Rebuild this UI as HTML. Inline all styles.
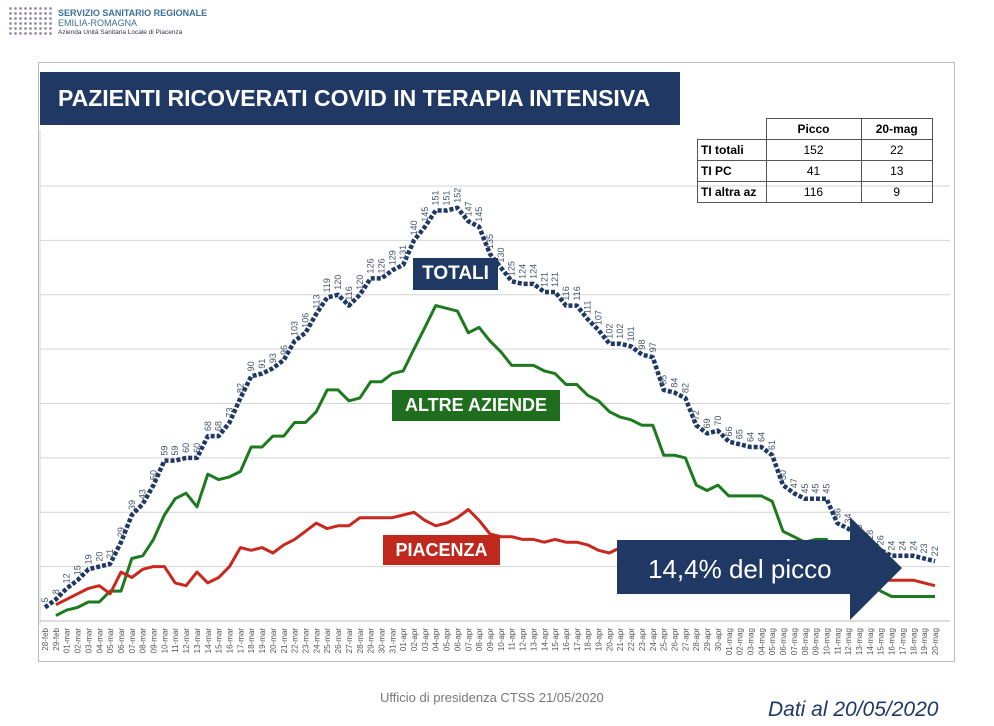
<!DOCTYPE html>
<html><head><meta charset="utf-8"><style>
body{margin:0;width:994px;height:726px;background:#fff;overflow:hidden;font-family:"Liberation Sans",sans-serif;position:relative}
.abs{position:absolute}
table{border-collapse:collapse;font-family:"Liberation Sans",sans-serif;font-size:12px}
td{border:1px solid #555;height:20px;padding:0 3px;text-align:center}
</style></head><body>
<div class="abs" style="left:8px;top:6px;width:46px;height:30px;background:radial-gradient(circle,#9a8fa5 1.2px,transparent 1.6px) 0 0/5px 5px"></div>
<div class="abs" style="left:58px;top:8px;font-size:9px;line-height:10px;color:#3c6f9e">
<div style="font-weight:bold">SERVIZIO SANITARIO REGIONALE</div><div>EMILIA-ROMAGNA</div><div style="font-size:6.5px;color:#335">Azienda Unità Sanitaria Locale di Piacenza</div></div>
<div class="abs" style="left:38px;top:62px;width:917px;height:600px;border:1px solid #bbb;box-sizing:border-box"></div>
<svg class="abs" style="left:0;top:0" width="994" height="726" id="chart"></svg>
<div class="abs" style="left:40px;top:72px;width:640px;height:53px;background:#1f3864;color:#fff;font-weight:bold;font-size:23px;line-height:53px;padding-left:18px;box-sizing:border-box;white-space:nowrap">PAZIENTI RICOVERATI COVID IN TERAPIA INTENSIVA</div>
<table class="abs" style="left:697px;top:118px;width:236px">
<tr><td style="border:none;border-bottom:1px solid #555;width:62px"></td><td style="font-weight:bold;width:88px">Picco</td><td style="font-weight:bold">20-mag</td></tr>
<tr><td style="text-align:left;font-weight:bold">TI totali</td><td>152</td><td>22</td></tr>
<tr><td style="text-align:left;font-weight:bold">TI PC</td><td>41</td><td>13</td></tr>
<tr><td style="text-align:left;font-weight:bold">TI altra az</td><td>116</td><td>9</td></tr>
</table>
<div class="abs" style="left:413px;top:258px;width:85px;height:32px;background:#1f3864;color:#fff;font-weight:bold;font-size:19px;line-height:32px;text-align:center">TOTALI</div>
<div class="abs" style="left:392px;top:390px;width:168px;height:31px;background:#1e6e1e;color:#fff;font-weight:bold;font-size:18px;line-height:31px;text-align:center">ALTRE AZIENDE</div>
<div class="abs" style="left:383px;top:535px;width:117px;height:30px;background:#c0281e;color:#fff;font-weight:bold;font-size:18px;line-height:30px;text-align:center">PIACENZA</div>
<svg class="abs" style="left:0;top:0" width="994" height="726">
<polygon points="617,540 850,540 850,517 902,568 850,620 850,594 617,594" fill="#1f3864"/>
<text x="648" y="578" fill="#fff" font-size="26" font-family="Liberation Sans,sans-serif">14,4% del picco</text>
</svg>
<div class="abs" style="left:380px;top:690px;font-size:13px;color:#777">Ufficio di presidenza CTSS 21/05/2020</div>
<div class="abs" style="left:768px;top:698px;font-size:21px;font-style:italic;color:#1f3864">Dati al 20/05/2020</div>
<script>
const dates=[];
const months=[["feb",28,29],["mar",1,31],["apr",1,30],["mag",1,20]];
for(const m of months)for(let d=m[1];d<=m[2];d++)dates.push(String(d).padStart(2,"0")+"-"+m[0]);
const totali=[5,8,12,15,19,20,21,29,39,43,50,59,59,60,60,68,68,73,82,90,91,93,96,103,106,113,119,120,116,120,126,126,129,131,140,145,151,151,152,147,145,135,130,125,124,124,121,121,116,116,111,107,102,102,101,98,97,85,84,82,72,69,70,66,65,64,64,61,50,47,45,45,45,36,34,30,28,26,24,24,24,23,22];
const piacenza=[null,6,8,10,12,13,10,18,16,19,20,20,14,13,18,14,16,20,27,26,27,25,28,30,33,36,34,35,35,38,38,38,38,39,40,37,35,36,38,41,37,32,31,31,30,30,29,30,29,29,28,26,25,27,27,26,25,24,23,22,22,21,20,20,19,18,18,17,17,16,16,15,15,15,14,14,14,15,15,15,15,14,13];
const altre=[null,2,4,5,7,7,11,11,23,24,30,39,45,47,42,54,52,53,55,64,64,68,68,73,73,77,85,85,81,82,88,88,91,92,100,108,116,115,114,106,108,103,99,94,94,94,92,91,87,87,83,81,77,75,74,72,72,61,61,60,50,48,50,46,46,46,46,44,33,31,29,30,30,21,20,16,14,11,9,9,9,9,9];
const yTicks=[0,20,40,60,80,100,120,140,160];
const svg=document.getElementById("chart");const NS="http://www.w3.org/2000/svg";
const X=i=>45+i*(935-45)/(dates.length-1);
const Y=v=>621-v*(621-186)/160;
function mk(t,a){const e=document.createElementNS(NS,t);for(const k in a)e.setAttribute(k,a[k]);svg.appendChild(e);return e;}
for(const t of yTicks){const g=mk("line",{x1:40,x2:950,y1:Y(t),y2:Y(t),stroke:t?"#d4d4d4":"#bbb","stroke-width":1});

}
mk("line",{x1:40,x2:40,y1:130,y2:625,stroke:"#d4d4d4"});
dates.forEach((d,i)=>{const x=X(i);const t=mk("text",{x:0,y:0,transform:`translate(${x+3},${628}) rotate(-90)`,"text-anchor":"end","font-size":8,fill:"#555","font-family":"Liberation Sans,sans-serif"});t.textContent=d;

});
function line(arr,color,w,dash,name){let p="";arr.forEach((v,i)=>{if(v==null)return;p+=(p?"L":"M")+X(i).toFixed(1)+","+Y(v).toFixed(1);});
const e=mk("path",{d:p,fill:"none",stroke:color,"stroke-width":w,"stroke-linejoin":"round"});if(dash)e.setAttribute("stroke-dasharray",dash);

}
line(altre,"#1e7a1e",3,null,"altre-aziende-line");
line(piacenza,"#c8281e",3,null,"piacenza-line");
line(totali,"#1f3864",4.5,"4 2","totali-line");
totali.forEach((v,i)=>{const x=X(i),y=Y(v)-5;const t=mk("text",{x:0,y:0,transform:`translate(${x+3},${y}) rotate(-90)`,"font-size":9,fill:"#44546a","font-family":"Liberation Sans,sans-serif"});t.textContent=v;

});
</script>
</body></html>
